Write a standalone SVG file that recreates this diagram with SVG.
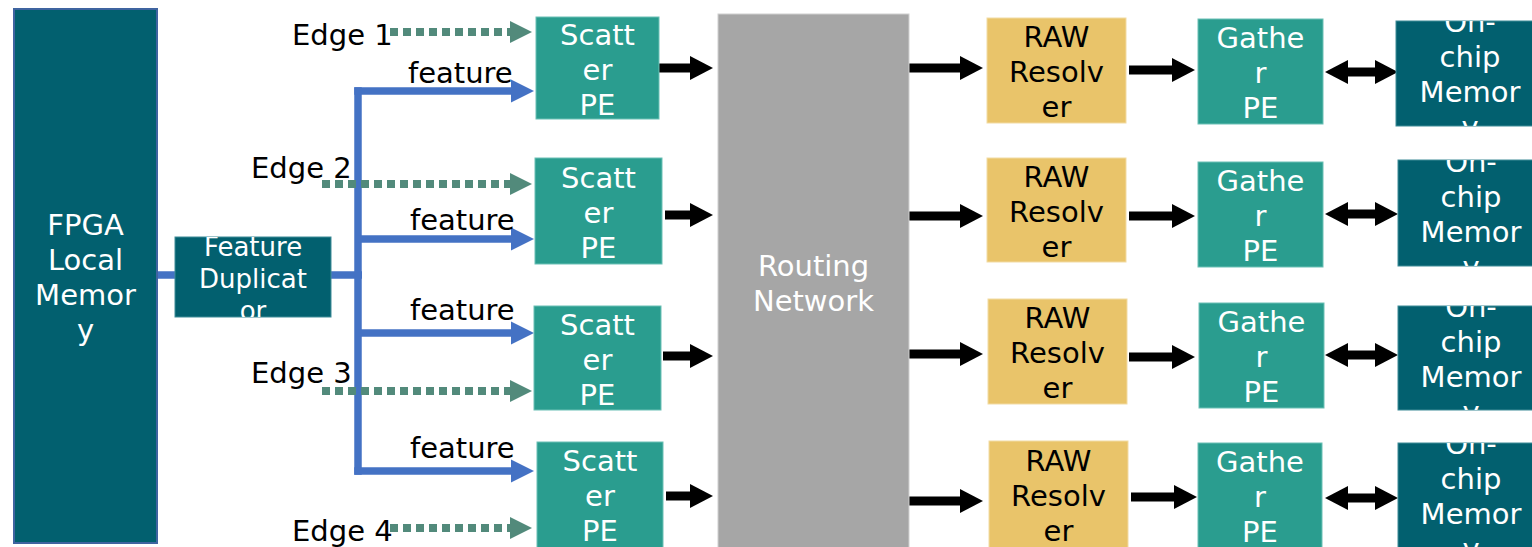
<svg xmlns="http://www.w3.org/2000/svg" width="1532" height="547" viewBox="0 0 1532 547">
  <style>
    text { font-family: "DejaVu Sans", "Liberation Sans", sans-serif; font-size: 29px; }
    .wt { fill: #ffffff; text-anchor: middle; }
    .bt { fill: #000000; text-anchor: middle; }
    .lbl { fill: #000000; }
    .dark { fill: #02606F; stroke: #3E8C98; stroke-width: 1; }
    .teal { fill: #2A9D8F; stroke: #6BC0B5; stroke-width: 1; }
    .yel { fill: #E9C46A; stroke: #F2DBA3; stroke-width: 1; }
    .blue { fill: none; stroke: #4472C4; stroke-width: 7.5; }
    .dot { fill: none; stroke: #528A7B; stroke-width: 8; stroke-dasharray: 8 5; }
    .blk { fill: none; stroke: #000000; stroke-width: 9; }
    .small { font-size: 26px; }
  </style>
  <defs>
    <marker id="headBlue" markerUnits="userSpaceOnUse" markerWidth="23" markerHeight="24" refX="0" refY="11.5" orient="auto" overflow="visible">
      <path d="M0,0 L23,11.5 L0,23 z" fill="#4472C4"/>
    </marker>
    <marker id="headDot" markerUnits="userSpaceOnUse" markerWidth="23" markerHeight="24" refX="0" refY="11" orient="auto" overflow="visible">
      <path d="M0,0 L22,11 L0,22 z" fill="#528A7B"/>
    </marker>
    <marker id="headBlk" markerUnits="userSpaceOnUse" markerWidth="24" markerHeight="24" refX="0" refY="12" orient="auto" overflow="visible">
      <path d="M0,0 L23,12 L0,24 z" fill="#000000"/>
    </marker>
    <marker id="headBlkStart" markerUnits="userSpaceOnUse" markerWidth="24" markerHeight="24" refX="0" refY="12" orient="auto-start-reverse" overflow="visible">
      <path d="M0,0 L23,12 L0,24 z" fill="#000000"/>
    </marker>
    <clipPath id="clipDup"><rect x="175" y="237" width="156" height="80"/></clipPath>
    <clipPath id="clipMem1"><rect x="1396" y="21" width="136" height="105"/></clipPath>
    <clipPath id="clipMem2"><rect x="1398" y="160" width="134" height="106"/></clipPath>
    <clipPath id="clipMem3"><rect x="1398" y="306" width="134" height="104"/></clipPath>
    <clipPath id="clipMem4"><rect x="1398" y="443" width="134" height="104"/></clipPath>
  </defs>

  <rect width="1532" height="547" fill="#ffffff"/>

  <!-- connectors -->
  <g id="connectors">
    <!-- feature distribution (blue) -->
    <path class="blue" d="M157,275 H176"/>
    <path class="blue" d="M330,275 H362"/>
    <path class="blue" d="M358,87.25 V474.75"/>
    <path class="blue" d="M354.25,91 H511" marker-end="url(#headBlue)"/>
    <path class="blue" d="M358,239 H511" marker-end="url(#headBlue)"/>
    <path class="blue" d="M358,333 H511" marker-end="url(#headBlue)"/>
    <path class="blue" d="M354.25,471 H511" marker-end="url(#headBlue)"/>
    <!-- edge streams (dotted) -->
    <path class="dot" d="M390,32 H510" marker-end="url(#headDot)"/>
    <path class="dot" d="M322,184 H510" marker-end="url(#headDot)"/>
    <path class="dot" d="M322,391 H510" marker-end="url(#headDot)"/>
    <path class="dot" d="M390,528 H510" marker-end="url(#headDot)"/>
    <!-- scatter PE to routing network -->
    <path class="blk" d="M659,68 H690" marker-end="url(#headBlk)"/>
    <path class="blk" d="M665,215 H690" marker-end="url(#headBlk)"/>
    <path class="blk" d="M663,356 H690" marker-end="url(#headBlk)"/>
    <path class="blk" d="M666,496 H690" marker-end="url(#headBlk)"/>
    <!-- routing network to RAW resolver -->
    <path class="blk" d="M909,68 H960" marker-end="url(#headBlk)"/>
    <path class="blk" d="M909,216 H960" marker-end="url(#headBlk)"/>
    <path class="blk" d="M909,354 H960" marker-end="url(#headBlk)"/>
    <path class="blk" d="M909,501 H960" marker-end="url(#headBlk)"/>
    <!-- RAW resolver to gather PE -->
    <path class="blk" d="M1129,70 H1172" marker-end="url(#headBlk)"/>
    <path class="blk" d="M1129,216 H1172" marker-end="url(#headBlk)"/>
    <path class="blk" d="M1129,357 H1172" marker-end="url(#headBlk)"/>
    <path class="blk" d="M1131,497 H1174" marker-end="url(#headBlk)"/>
    <!-- gather PE and on-chip memory (bidirectional) -->
    <path class="blk" stroke-width="8" d="M1348,72 H1375" marker-start="url(#headBlkStart)" marker-end="url(#headBlk)"/>
    <path class="blk" stroke-width="8" d="M1348,214 H1375" marker-start="url(#headBlkStart)" marker-end="url(#headBlk)"/>
    <path class="blk" stroke-width="8" d="M1348,355 H1375" marker-start="url(#headBlkStart)" marker-end="url(#headBlk)"/>
    <path class="blk" stroke-width="8" d="M1348,498 H1375" marker-start="url(#headBlkStart)" marker-end="url(#headBlk)"/>
  </g>

  <!-- connector labels -->
  <g id="labels">
    <text class="lbl" x="292" y="45">Edge 1</text>
    <text class="lbl" x="251" y="178">Edge 2</text>
    <text class="lbl" x="251" y="383">Edge 3</text>
    <text class="lbl" x="292" y="541">Edge 4</text>
    <text class="lbl" x="408" y="83">feature</text>
    <text class="lbl" x="410" y="230">feature</text>
    <text class="lbl" x="410" y="320">feature</text>
    <text class="lbl" x="410" y="458">feature</text>
  </g>

  <!-- nodes -->
  <g id="fpga-local-memory">
    <rect x="14" y="9" width="143" height="534" fill="#02606F" stroke="#3F64A0" stroke-width="2"/>
    <text class="wt" x="85.5" y="235">FPGA</text>
    <text class="wt" x="85.5" y="270">Local</text>
    <text class="wt" x="85.5" y="305">Memor</text>
    <text class="wt" x="85.5" y="340">y</text>
  </g>

  <g id="feature-duplicator">
    <rect class="dark" x="175" y="237" width="156" height="80"/>
    <g clip-path="url(#clipDup)">
      <text class="wt small" x="253" y="256">Feature</text>
      <text class="wt small" x="253" y="288">Duplicat</text>
      <text class="wt small" x="253" y="320">or</text>
    </g>
  </g>

  <g id="scatter-pe-1">
    <rect class="teal" x="536" y="17" width="123" height="102"/>
    <text class="wt" x="597.5" y="45">Scatt</text>
    <text class="wt" x="597.5" y="80">er</text>
    <text class="wt" x="597.5" y="115">PE</text>
  </g>
  <g id="scatter-pe-2">
    <rect class="teal" x="535" y="158" width="127" height="106"/>
    <text class="wt" x="598.5" y="188">Scatt</text>
    <text class="wt" x="598.5" y="223">er</text>
    <text class="wt" x="598.5" y="258">PE</text>
  </g>
  <g id="scatter-pe-3">
    <rect class="teal" x="534" y="306" width="127" height="104"/>
    <text class="wt" x="597.5" y="335">Scatt</text>
    <text class="wt" x="597.5" y="370">er</text>
    <text class="wt" x="597.5" y="405">PE</text>
  </g>
  <g id="scatter-pe-4">
    <rect class="teal" x="537" y="442" width="126" height="106"/>
    <text class="wt" x="600" y="471">Scatt</text>
    <text class="wt" x="600" y="506">er</text>
    <text class="wt" x="600" y="541">PE</text>
  </g>

  <g id="routing-network">
    <rect x="718" y="14" width="191" height="534" fill="#A6A6A6" stroke="#D0D0D0" stroke-width="1"/>
    <text class="wt" x="813.5" y="276">Routing</text>
    <text class="wt" x="813.5" y="311">Network</text>
  </g>

  <g id="raw-resolver-1">
    <rect class="yel" x="987" y="18" width="139" height="105"/>
    <text class="bt" x="1056.5" y="47">RAW</text>
    <text class="bt" x="1056.5" y="82">Resolv</text>
    <text class="bt" x="1056.5" y="117">er</text>
  </g>
  <g id="raw-resolver-2">
    <rect class="yel" x="987" y="158" width="139" height="104"/>
    <text class="bt" x="1056.5" y="187">RAW</text>
    <text class="bt" x="1056.5" y="222">Resolv</text>
    <text class="bt" x="1056.5" y="257">er</text>
  </g>
  <g id="raw-resolver-3">
    <rect class="yel" x="988" y="299" width="139" height="105"/>
    <text class="bt" x="1057.5" y="328">RAW</text>
    <text class="bt" x="1057.5" y="363">Resolv</text>
    <text class="bt" x="1057.5" y="398">er</text>
  </g>
  <g id="raw-resolver-4">
    <rect class="yel" x="989" y="441" width="139" height="107"/>
    <text class="bt" x="1058.5" y="471">RAW</text>
    <text class="bt" x="1058.5" y="506">Resolv</text>
    <text class="bt" x="1058.5" y="541">er</text>
  </g>

  <g id="gather-pe-1">
    <rect class="teal" x="1198" y="19" width="125" height="105"/>
    <text class="wt" x="1260.5" y="48">Gathe</text>
    <text class="wt" x="1260.5" y="83">r</text>
    <text class="wt" x="1260.5" y="118">PE</text>
  </g>
  <g id="gather-pe-2">
    <rect class="teal" x="1198" y="162" width="125" height="105"/>
    <text class="wt" x="1260.5" y="191">Gathe</text>
    <text class="wt" x="1260.5" y="226">r</text>
    <text class="wt" x="1260.5" y="261">PE</text>
  </g>
  <g id="gather-pe-3">
    <rect class="teal" x="1199" y="303" width="125" height="105"/>
    <text class="wt" x="1261.5" y="332">Gathe</text>
    <text class="wt" x="1261.5" y="367">r</text>
    <text class="wt" x="1261.5" y="402">PE</text>
  </g>
  <g id="gather-pe-4">
    <rect class="teal" x="1198" y="443" width="124" height="105"/>
    <text class="wt" x="1260" y="472">Gathe</text>
    <text class="wt" x="1260" y="507">r</text>
    <text class="wt" x="1260" y="542">PE</text>
  </g>

  <g id="on-chip-memory-1">
    <rect class="dark" x="1396" y="21" width="137" height="105"/>
    <g clip-path="url(#clipMem1)">
      <text class="wt" x="1470" y="32">On-</text>
      <text class="wt" x="1470" y="67">chip</text>
      <text class="wt" x="1470" y="102">Memor</text>
      <text class="wt" x="1470" y="137">y</text>
    </g>
  </g>
  <g id="on-chip-memory-2">
    <rect class="dark" x="1398" y="160" width="135" height="106"/>
    <g clip-path="url(#clipMem2)">
      <text class="wt" x="1471" y="172">On-</text>
      <text class="wt" x="1471" y="207">chip</text>
      <text class="wt" x="1471" y="242">Memor</text>
      <text class="wt" x="1471" y="277">y</text>
    </g>
  </g>
  <g id="on-chip-memory-3">
    <rect class="dark" x="1398" y="306" width="135" height="104"/>
    <g clip-path="url(#clipMem3)">
      <text class="wt" x="1471" y="317">On-</text>
      <text class="wt" x="1471" y="352">chip</text>
      <text class="wt" x="1471" y="387">Memor</text>
      <text class="wt" x="1471" y="422">y</text>
    </g>
  </g>
  <g id="on-chip-memory-4">
    <rect class="dark" x="1398" y="443" width="135" height="105"/>
    <g clip-path="url(#clipMem4)">
      <text class="wt" x="1471" y="454">On-</text>
      <text class="wt" x="1471" y="489">chip</text>
      <text class="wt" x="1471" y="524">Memor</text>
      <text class="wt" x="1471" y="559">y</text>
    </g>
  </g>
</svg>
